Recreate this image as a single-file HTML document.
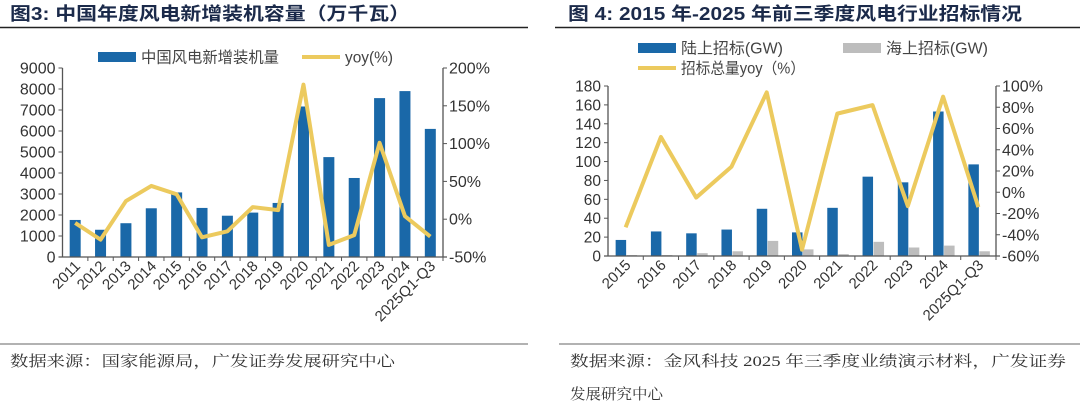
<!DOCTYPE html>
<html><head><meta charset="utf-8"><style>
body{margin:0;width:1080px;height:410px;background:#fff;overflow:hidden;font-family:"Liberation Sans","Noto Sans CJK SC",sans-serif;}
svg{position:absolute;left:0;top:0}
</style></head><body>
<svg id="s" width="1080" height="410">
<text x="10" y="20" font-size="18" font-weight="bold" fill="#1b2a4a" textLength="400" lengthAdjust="spacingAndGlyphs">图3:  中国年度风电新增装机容量（万千瓦）</text>
<line x1="0" y1="27.5" x2="528" y2="27.5" stroke="#222" stroke-width="1.5"/>
<text x="568" y="20" font-size="18" font-weight="bold" fill="#1b2a4a" textLength="454" lengthAdjust="spacingAndGlyphs">图 4:  2015 年-2025 年前三季度风电行业招标情况</text>
<line x1="555" y1="27.5" x2="1080" y2="27.5" stroke="#222" stroke-width="1.5"/>
<line x1="0" y1="344" x2="528" y2="344" stroke="#999" stroke-width="1.5"/>
<line x1="559" y1="344" x2="1080" y2="344" stroke="#999" stroke-width="1.5"/>
<text x="10" y="366" font-size="15" fill="#333" textLength="385" lengthAdjust="spacingAndGlyphs" font-family="'Liberation Serif','Noto Serif CJK SC',serif">数据来源：国家能源局，广发证券发展研究中心</text>
<text x="570" y="366" font-size="15" fill="#333" textLength="496" lengthAdjust="spacingAndGlyphs" font-family="'Liberation Serif','Noto Serif CJK SC',serif">数据来源：金风科技 2025 年三季度业绩演示材料，广发证券</text>
<text x="570" y="399" font-size="15" fill="#333" textLength="93" lengthAdjust="spacingAndGlyphs" font-family="'Liberation Serif','Noto Serif CJK SC',serif">发展研究中心</text>
<g id="c1"></g>
<g id="c2"></g>
</svg>
<script>
const cats1=["2011","2012","2013","2014","2015","2016","2017","2018","2019","2020","2021","2022","2023","2024","2025Q1-Q3"];
const install1=[1764,1297,1609,2320,3075,2337,1966,2114,2574,7167,4757,3763,7566,7900,6100];
const yoy1=[-5,-27,24,44,33,-24,-16,16,12,178,-34,-21,101,4,-23];
const leftTicks1=[0,1000,2000,3000,4000,5000,6000,7000,8000,9000];
const rightTicks1=[-50,0,50,100,150,200];

const cats2=["2015","2016","2017","2018","2019","2020","2021","2022","2023","2024","2025Q1-Q3"];
const land2=[17,26,24,28,50,25,51,84,78,153,97];
const sea2=[1,1,3,5,16,7,2,15,9,11,5];
const yoy2=[-33,52,-5,24,94,-54,74,82,-13,90,-14];
const leftTicks2=[0,20,40,60,80,100,120,140,160,180];
const rightTicks2=[-60,-40,-20,0,20,40,60,80,100];

const NS="http://www.w3.org/2000/svg";
function mk(parent,tag,at,txt){const e=document.createElementNS(NS,tag);for(const k in at)e.setAttribute(k,at[k]);if(txt!==undefined)e.textContent=txt;parent.appendChild(e);return e;}
const BLUE="#1a68a8",GOLD="#ecca5e",GRAY="#bdbdbd",AX="#555";

function chart(g,o){
  const {x0,x1,y0,y1,cats,lmin,lmax,rmin,rmax,lt,rt}=o;
  const bw=(x1-x0)/cats.length;
  const ly=v=>y0-(v-lmin)/(lmax-lmin)*(y0-y1);
  const ry=v=>y0-(v-rmin)/(rmax-rmin)*(y0-y1);
  const cx=i=>x0+bw*(i+0.5);
  o.series.forEach(s=>{
    s.vals.forEach((v,i)=>{
      const r=mk(g,"rect",{x:cx(i)+s.off,y:ly(v),width:s.w,height:ly(lmin)-ly(v),fill:s.color});
      
      
    });
  });
  const a1=mk(g,"line",{x1:x0,y1:y1,x2:x0,y2:y0,stroke:AX,"stroke-width":1.3});
  
  const a2=mk(g,"line",{x1:x1,y1:y1,x2:x1,y2:y0,stroke:AX,"stroke-width":1.3});
  
  const a3=mk(g,"line",{x1:x0-4,y1:y0,x2:x1+4,y2:y0,stroke:AX,"stroke-width":1.3});
  
  lt.forEach(v=>{
    mk(g,"line",{x1:x0-4,y1:ly(v),x2:x0,y2:ly(v),stroke:AX});
    const t=mk(g,"text",{x:x0-7,y:ly(v)+5.5,"font-size":o.lfs,"text-anchor":"end",fill:"#333"},String(v));
    
  });
  rt.forEach(v=>{
    mk(g,"line",{x1:x1,y1:ry(v),x2:x1+4,y2:ry(v),stroke:AX});
    const t=mk(g,"text",{x:x1+6,y:ry(v)+5.5,"font-size":16,fill:"#333"},v+"%");
    
  });
  cats.forEach((c,i)=>{
    mk(g,"line",{x1:x0+bw*(i+1),y1:y0,x2:x0+bw*(i+1),y2:y0+4,stroke:AX});
    const X=cx(i)+6,Y=y0+10;
    const t=mk(g,"text",{x:X,y:Y,"font-size":15,"text-anchor":"end",fill:"#333",transform:`rotate(-45 ${X} ${Y})`},c);
    
  });
  const pts=o.line.map((v,i)=>cx(i)+","+ry(v)).join(" ");
  const pl=mk(g,"polyline",{points:pts,fill:"none",stroke:GOLD,"stroke-width":4,"stroke-linejoin":"round"});
  
}
const g1=document.getElementById("c1"),g2=document.getElementById("c2");
chart(g1,{x0:62.5,x1:443,y0:257,y1:68,cats:cats1,lmin:0,lmax:9000,rmin:-50,rmax:200,lt:leftTicks1,rt:rightTicks1,lfs:16,
  series:[{key:"install",vals:install1,off:-5.5,w:11,color:BLUE}],line:yoy1});
chart(g2,{x0:608,x1:996,y0:256,y1:86,cats:cats2,lmin:0,lmax:180,rmin:-60,rmax:100,lt:leftTicks2,rt:rightTicks2,lfs:15.5,
  series:[{key:"land",vals:land2,off:-10,w:10.5,color:BLUE},{key:"sea",vals:sea2,off:1,w:10.5,color:GRAY}],line:yoy2});
function leg(g,x,y,kind,color,label,name,tl){
  const grp=mk(g,"g",{});
  
  if(kind==="bar")mk(grp,"rect",{x:x,y:y-5,width:38,height:10,fill:color});
  else mk(grp,"line",{x1:x,y1:y,x2:x+38,y2:y,stroke:color,"stroke-width":4});
  mk(grp,"text",{x:x+43,y:y+5.5,"font-size":15.5,fill:"#444",textLength:tl,lengthAdjust:"spacingAndGlyphs"},label);
}
leg(g1,98,57,"bar",BLUE,"中国风电新增装机量","legend-installations",138);
leg(g1,302,57,"line",GOLD,"yoy(%)","legend-yoy",48);
leg(g2,638,48,"bar",BLUE,"陆上招标(GW)","legend-onshore",102);
leg(g2,843,48,"bar",GRAY,"海上招标(GW)","legend-offshore",102);
leg(g2,638,68,"line",GOLD,"招标总量yoy（%）","legend-tender-yoy",124);
</script>
</body></html>
